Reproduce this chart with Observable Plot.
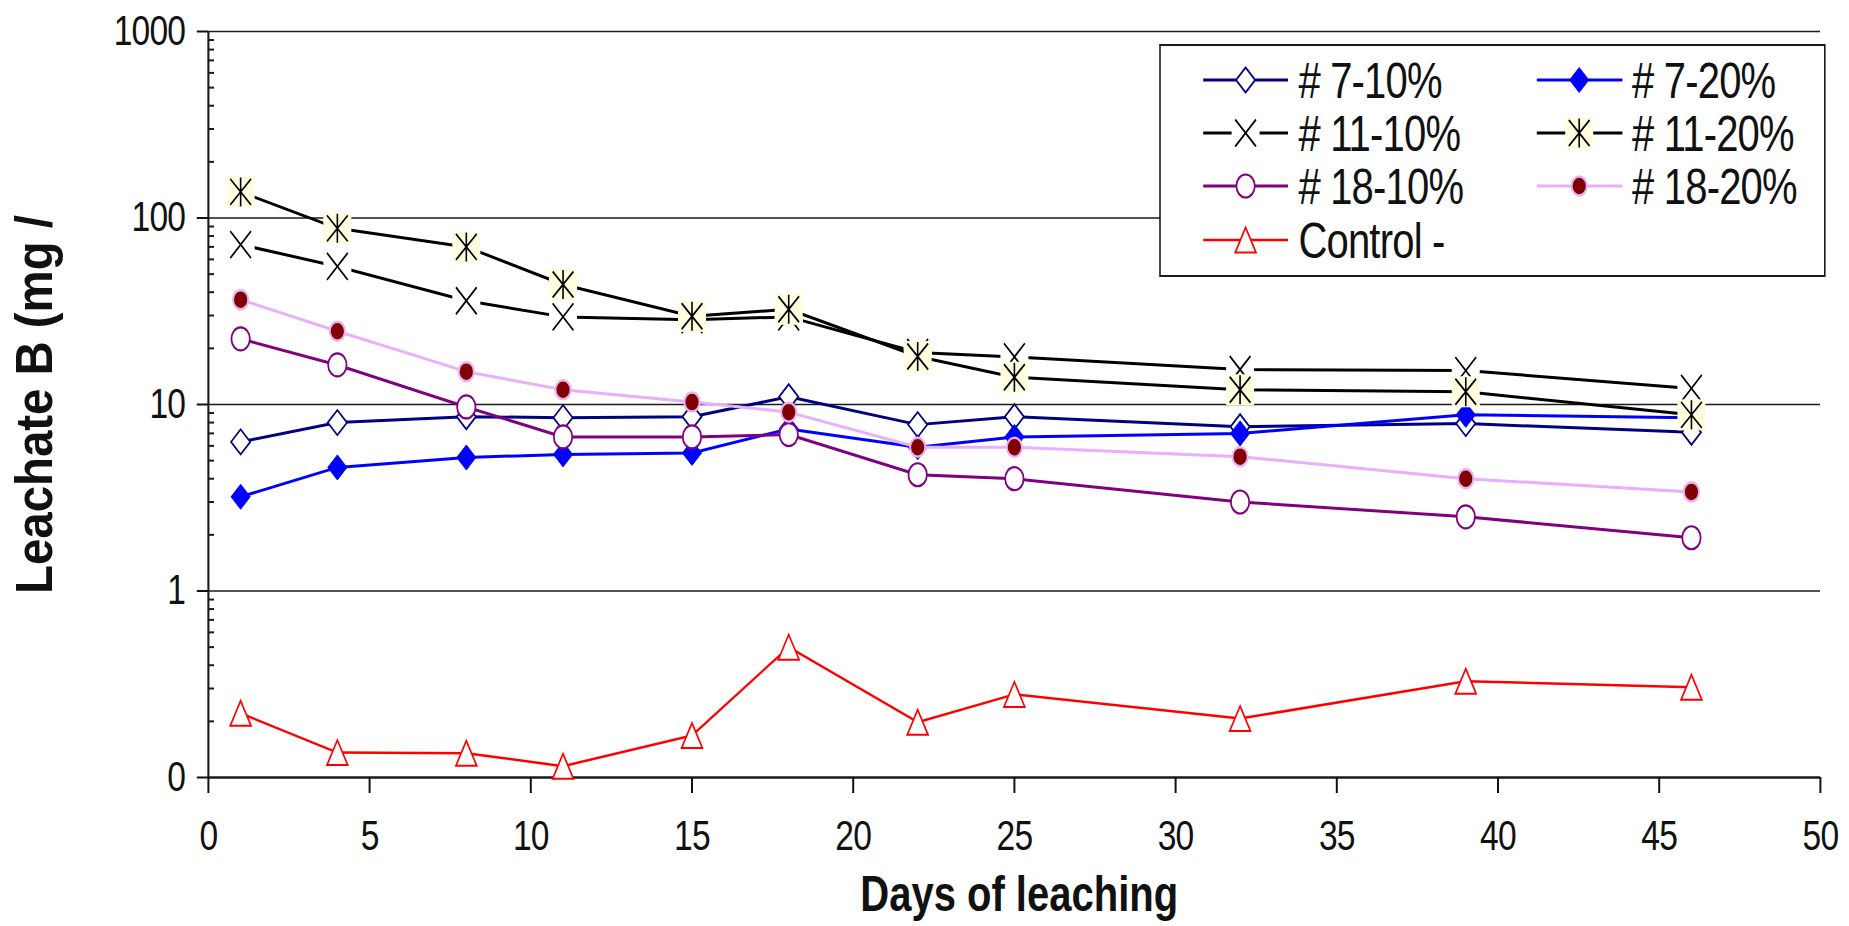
<!DOCTYPE html>
<html><head><meta charset="utf-8">
<script src="https://cdn.jsdelivr.net/npm/d3@7"></script>
<script src="https://cdn.jsdelivr.net/npm/@observablehq/plot@0.6"></script>
<style>
html,body{margin:0;padding:0;background:#fff;overflow:hidden;}
#outer{width:1849px;height:926px;overflow:hidden;position:relative;background:#fff;}
#wrap{position:absolute;left:0;top:0;width:2311px;height:926px;transform:scaleX(0.8);transform-origin:0 0;font-family:"Liberation Sans",Arial,sans-serif;}
#wrap svg{position:absolute;left:0;top:0;}
#wrap svg [aria-label="y-axis tick label"] text,#wrap svg [aria-label="x-axis tick label"] text{letter-spacing:-1px;}
</style></head><body>
<div id="outer"><div id="wrap"></div></div>
<script>
// ---------- data ----------
const days = [1, 4, 8, 11, 15, 18, 22, 25, 32, 39, 46];
const s7_10  = [6.3, 8.0, 8.6, 8.5, 8.6, 11.0, 7.8, 8.6, 7.6, 7.9, 7.1];
const s7_20  = [3.2, 4.6, 5.2, 5.4, 5.5, 7.4, 5.9, 6.7, 7.0, 8.8, 8.5];
const s11_10 = [72, 55, 36, 29.5, 28.5, 29.5, 19, 18, 15.4, 15.2, 12.2];
const s11_20 = [138, 88, 70, 44, 29.7, 32.4, 18.1, 14.0, 12.0, 11.7, 8.8];
const s18_10 = [22.5, 16.3, 9.7, 6.7, 6.7, 6.9, 4.2, 4.0, 3.0, 2.5, 1.93];
const s18_20 = [36.5, 24.7, 15.0, 12.0, 10.3, 9.1, 5.9, 5.9, 5.25, 4.0, 3.4];
const control = [0.221, 0.136, 0.135, 0.115, 0.168, 0.5, 0.198, 0.279, 0.207, 0.328, 0.305];
const seriesNames = ["# 7-10%", "# 7-20%", "# 11-10%", "# 11-20%", "# 18-10%", "# 18-20%", "Control -"];
const seriesValues = [s7_10, s7_20, s11_10, s11_20, s18_10, s18_20, control];
const yTickValues = [0.1, 1, 10, 100, 1000];
const yTickLabels = ["0", "1", "10", "100", "1000"];
const xTickValues = [0, 5, 10, 15, 20, 25, 30, 35, 40, 45, 50];
const gridValues = [1, 10, 100, 1000];
const decades = [0.1, 1, 10, 100];
const minorMultipliers = [2, 3, 4, 5, 6, 7, 8, 9];
const xLabel = "Days of leaching";
const yLabel = "Leachate B (mg /";

// ---------- symbols ----------
const sym = {
  diamond: {draw(c){c.moveTo(0,-12.5);c.lineTo(12,0);c.lineTo(0,12.5);c.lineTo(-12,0);c.closePath();}},
  circle: {draw(c){c.moveTo(11.5,0);c.arc(0,0,11.5,0,2*Math.PI);c.closePath();}},
  dot: {draw(c){c.moveTo(9.5,0);c.arc(0,0,9.5,0,2*Math.PI);c.closePath();}},
  times: {draw(c){c.moveTo(-13,-13.5);c.lineTo(13,13.5);c.moveTo(13,-13.5);c.lineTo(-13,13.5);}},
  asterisk: {draw(c){c.moveTo(-13,-13);c.lineTo(13,13);c.moveTo(13,-13);c.lineTo(-13,13);c.moveTo(0,-14.5);c.lineTo(0,14.5);}},
  triangle: {draw(c){c.moveTo(0,-12.5);c.lineTo(13,12.5);c.lineTo(-13,12.5);c.closePath();}},
  bg: {draw(c){c.moveTo(-17.5,-15.5);c.lineTo(17.5,-15.5);c.lineTo(17.5,15.5);c.lineTo(-17.5,15.5);c.closePath();}},
  minor: {draw(c){c.moveTo(0,0);c.lineTo(7,0);}}
};

const styles = [
  {line:"#000080", lw:3, symbol:sym.diamond, fill:"white", stroke:"#000080", sw:2},
  {line:"#0000FF", lw:3, symbol:sym.diamond, fill:"#0000FF", stroke:"#0000FF", sw:1},
  {line:"#000000", lw:3, symbol:sym.times, fill:"none", stroke:"#000000", sw:2, bg:"white"},
  {line:"#000000", lw:3, symbol:sym.asterisk, fill:"none", stroke:"#000000", sw:2, bg:"#FFFFE0"},
  {line:"#800080", lw:3, symbol:sym.circle, fill:"white", stroke:"#800080", sw:2.2},
  {line:"#E8B0FA", lw:3, symbol:sym.dot, fill:"#800000", stroke:"#E8B0FA", sw:2.5},
  {line:"#FF0000", lw:2.5, symbol:sym.triangle, fill:"white", stroke:"#FF0000", sw:2}
];

const rows = [];
seriesNames.forEach((name, i) => days.forEach((d, j) => rows.push({series: name, day: d, value: seriesValues[i][j]})));
const minorTicks = minorMultipliers.flatMap(m => decades.map(d => m * d));

const seriesMarks = seriesNames.flatMap((name, i) => {
  const s = styles[i];
  const f = d => d.series === name;
  const m = [Plot.line(rows, {filter: f, x: "day", y: "value", stroke: s.line, strokeWidth: s.lw})];
  if (s.bg) m.push(Plot.dot(rows, {filter: f, x: "day", y: "value", symbol: sym.bg, fill: s.bg, stroke: "none"}));
  m.push(Plot.dot(rows, {filter: f, x: "day", y: "value", symbol: s.symbol, fill: s.fill, stroke: s.stroke, strokeWidth: s.sw}));
  return m;
});

const chart = Plot.plot({
  width: 2311, height: 926,
  marginLeft: 260, marginRight: 36, marginTop: 31, marginBottom: 149,
  style: {fontFamily: "Liberation Sans, Arial, sans-serif", color: "#111", background: "white"},
  x: {domain: [0, 50]},
  y: {type: "log", domain: [0.1, 1000]},
  marks: [
    Plot.ruleY(gridValues, {stroke: "#1a1a1a", strokeWidth: 1.6}),
    Plot.ruleY([0.1], {stroke: "#1a1a1a", strokeWidth: 2.4}),
    Plot.ruleX([0], {stroke: "#1a1a1a", strokeWidth: 2.6}),
    Plot.dot(minorTicks, {y: d => d, frameAnchor: "left", symbol: sym.minor, fill: "none", stroke: "#1a1a1a", strokeWidth: 2}),
    Plot.axisY({ticks: yTickValues, tickFormat: d => yTickLabels[yTickValues.indexOf(d)], tickSize: 14, tickPadding: 15, fontSize: 42, strokeWidth: 2, label: null}),
    Plot.axisX({ticks: xTickValues, tickSize: 16, tickPadding: 27, fontSize: 42, strokeWidth: 2.5, label: null}),
    ...seriesMarks,
    Plot.text([yLabel], {text: d => d, frameAnchor: "left", textAnchor: "middle", lineAnchor: "middle", dx: -216, dy: 0, rotate: -90, fontSize: 64, fontWeight: "bold", fill: "#111"}),
    Plot.text([xLabel], {text: d => d, frameAnchor: "bottom", lineAnchor: "middle", dx: 6, dy: 117, fontSize: 50, fontWeight: "bold", fill: "#111"})
  ]
});
document.getElementById("wrap").appendChild(chart);

d3.select(chart).selectAll("text").filter(function(){ return this.textContent === yLabel; })
  .attr("transform", function(){ return this.getAttribute("transform") + " scale(0.74,1)"; });
d3.select(chart).selectAll("text").filter(function(){ return this.textContent === xLabel; })
  .style("letter-spacing", "0px");

// ---------- legend ----------
const leg = d3.select("#wrap").append("svg")
  .attr("width", 2311).attr("height", 926)
  .style("pointer-events", "none");
leg.append("rect").attr("x", 1450).attr("y", 45).attr("width", 831).attr("height", 231)
  .attr("fill", "white").attr("stroke", "#1a1a1a").attr("stroke-width", 2);
const colX = [{l1: 1504, l2: 1610, m: 1557, t: 1623}, {l1: 1921, l2: 2028, m: 1974, t: 2040}];
const rowY = [80, 133, 186, 240];
seriesNames.forEach((name, i) => {
  const s = styles[i], c = colX[i % 2], y = rowY[Math.floor(i / 2)];
  leg.append("line").attr("x1", c.l1).attr("x2", c.l2).attr("y1", y).attr("y2", y)
    .attr("stroke", s.line).attr("stroke-width", s.lw);
  if (s.bg) leg.append("path").attr("d", d3.symbol(sym.bg)()).attr("transform", `translate(${c.m},${y})`).attr("fill", s.bg);
  leg.append("path").attr("d", d3.symbol(s.symbol)()).attr("transform", `translate(${c.m},${y})`)
    .attr("fill", s.fill).attr("stroke", s.stroke).attr("stroke-width", s.sw);
  leg.append("text").attr("x", c.t).attr("y", y).attr("dy", "0.36em")
    .attr("font-size", 50).attr("font-family", "Liberation Sans, Arial, sans-serif")
    .style("letter-spacing", "-1px").attr("fill", "#111").text(name);
});
</script>
</body></html>
